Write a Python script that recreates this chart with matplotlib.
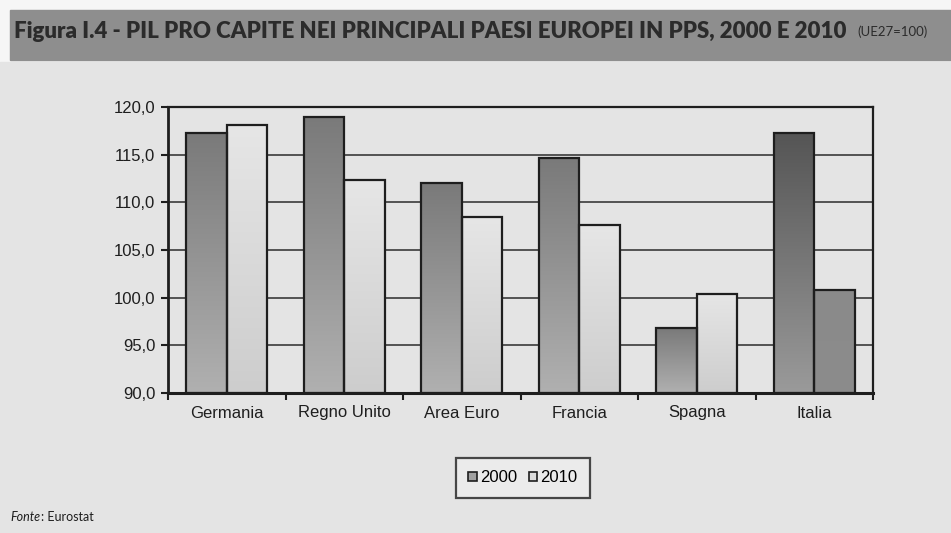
import matplotlib
matplotlib.use("Agg")
import matplotlib.pyplot as plt
import numpy as np
from matplotlib.patches import Rectangle

categories = ["Germania", "Regno Unito", "Area Euro", "Francia", "Spagna", "Italia"]
values_2000 = [117.3, 119.0, 112.0, 114.6, 96.8, 117.3]
values_2010 = [118.1, 112.3, 108.5, 107.6, 100.4, 100.8]
series_labels = ["2000", "2010"]
yticks = [90, 95, 100, 105, 110, 115, 120]

plt.rcParams['font.family'] = ['Liberation Sans', 'DejaVu Sans']

fig = plt.figure(figsize=(9.51, 5.33), dpi=100)
fig.patch.set_facecolor("#f6f6f6")

# background panels
bg = fig.add_axes([0, 0, 1, 1], zorder=-10)
bg.set_xlim(0, 951); bg.set_ylim(533, 0); bg.axis("off")
bg.add_patch(Rectangle((0, 62), 951, 471, color="#e4e4e4"))
bg.add_patch(Rectangle((10, 10), 941, 50, color="#8e8e8e"))

title = fig.text(14/951, 1-31/533, "Figura I.4 - PIL PRO CAPITE NEI PRINCIPALI PAESI EUROPEI IN PPS, 2000 E 2010",
                 fontsize=16, fontweight="heavy", color="#2b2b2b", va="center", ha="left",
                 family=["Lato", "DejaVu Sans"])
fig.text(857/951, 1-32/533, "(UE27=100)", fontsize=9.5, color="#2b2b2b", va="center", ha="left",
         family=["Lato", "DejaVu Sans"])

ax = fig.add_axes([168/951, 1-393/533, (873-168)/951, (393-107)/533])
ax.set_facecolor("none")
x = np.arange(len(categories))
w = 0.345
b1 = ax.bar(x - w/2, np.array(values_2000) - 90, w, bottom=90, color="none",
            edgecolor="#1e1e1e", linewidth=1.6, zorder=3, label=series_labels[0])
b2 = ax.bar(x + w/2, np.array(values_2010) - 90, w, bottom=90, color="none",
            edgecolor="#1e1e1e", linewidth=1.6, zorder=3, label=series_labels[1])

def grad(bar, top, bottom):
    xy = bar.get_xy(); bw = bar.get_width(); bh = bar.get_height()
    g = np.linspace(0, 1, 100).reshape(-1, 1)
    c0 = np.array(matplotlib.colors.to_rgb(top)); c1 = np.array(matplotlib.colors.to_rgb(bottom))
    img = c0[None, None, :] * (1 - g[:, :, None]) + c1[None, None, :] * g[:, :, None]
    im = ax.imshow(img, extent=(xy[0], xy[0]+bw, xy[1], xy[1]+bh), aspect="auto",
                   origin="upper", zorder=2.5)
    im.set_clip_path(bar)

ax.set_xlim(-0.5, len(categories) - 0.5)
ax.set_ylim(90, 120)
for i, bar in enumerate(b1):
    if categories[i] == "Italia":
        grad(bar, "#555555", "#9a9a9a")
    else:
        grad(bar, "#7a7a7a", "#b0b0b0")
for i, bar in enumerate(b2):
    if categories[i] == "Italia":
        grad(bar, "#8a8a8a", "#8c8c8c")
    else:
        grad(bar, "#e6e6e6", "#cdcdcd")

ax.set_yticks(yticks)
ax.set_yticklabels([f"{v:.1f}".replace(".", ",") for v in yticks], fontsize=12, color="#1e1e1e")
ax.yaxis.grid(True, color="#3a3a3a", linewidth=1.2, zorder=1)
ax.set_axisbelow(True)
ax.set_xticks(x)
ax.set_xticklabels(categories, fontsize=12, color="#1e1e1e")
ax.set_xticks(np.arange(len(categories) + 1) - 0.5, minor=True)
ax.tick_params(axis="x", which="major", length=0, pad=9)
ax.tick_params(axis="x", which="minor", length=5, width=1.5, direction="out", color="#1e1e1e")
ax.tick_params(axis="y", length=5, width=1.5, direction="out", color="#1e1e1e", pad=4)
for s in ax.spines.values():
    s.set_color("#1e1e1e"); s.set_linewidth(1.6)
ax.spines["left"].set_linewidth(2)
ax.spines["bottom"].set_linewidth(2.2)

# legend handles
h1 = Rectangle((0, 0), 1, 1, facecolor="#a0a0a0", edgecolor="#1e1e1e", linewidth=1.2)
h2 = Rectangle((0, 0), 1, 1, facecolor="#dcdcdc", edgecolor="#1e1e1e", linewidth=1.2)
leg = fig.legend([h1, h2], series_labels, loc="center", bbox_to_anchor=(523/951, 1-478/533),
                 ncol=2, fontsize=12, frameon=True, fancybox=False, handlelength=0.5,
                 handleheight=0.45, handletextpad=0.2, columnspacing=0.7, borderpad=0.75)
leg.get_frame().set_edgecolor("#1e1e1e"); leg.get_frame().set_linewidth(1.6)
leg.get_frame().set_facecolor("#eeeeee")

fig.text(10/951, 1-517/533, "Fonte", fontsize=9, style="italic", color="#1e1e1e",
         va="center", ha="left", family=["Lato", "DejaVu Sans"])
fig.text(41/951, 1-517/533, ": Eurostat", fontsize=9, color="#1e1e1e",
         va="center", ha="left", family=["Lato", "DejaVu Sans"])

fig.savefig("out.png", dpi=100, facecolor=fig.get_facecolor())
